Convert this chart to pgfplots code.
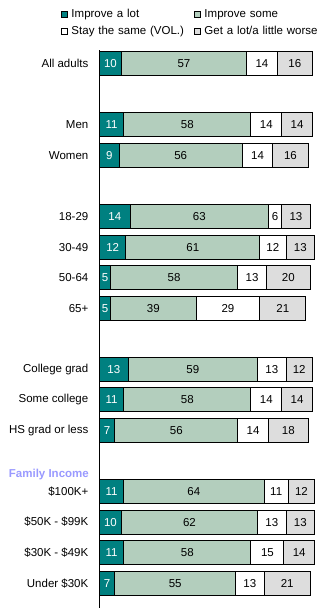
\documentclass[border=0pt]{standalone}
\usepackage{fontspec}
\setmainfont{Liberation Sans}
\usepackage{pgfplots}
\usepackage{pgfplotstable}
\pgfplotsset{compat=1.18}
\definecolor{cLot}{RGB}{0,128,128}
\definecolor{cSome}{RGB}{179,206,189}
\definecolor{cWorse}{RGB}{221,221,221}
\definecolor{cFam}{RGB}{153,153,255}
\pgfplotstableread{
pos lot some same worse
0 10 57 14 16
2 11 58 14 14
3 9 56 14 16
5 14 63 6 13
6 12 61 12 13
7 5 58 13 20
8 5 39 29 21
10 13 59 13 12
11 11 58 14 14
12 7 56 14 18
14 11 64 11 12
15 10 62 13 13
16 11 58 15 14
17 7 55 13 21
}\datatable
\newcommand{\tfont}{\fontsize{11.5bp}{13bp}\selectfont}
\pgfplotsset{
  common/.style={
    at={(99.5bp,0bp)}, anchor=south west,
    scale only axis, width=226.5bp, height=558bp,
    xmin=0, xmax=103.2, ymin=-0.448, ymax=17.81, y dir=reverse,
    clip=false,
  },
  legsq/.style={legend image code/.code={\draw[##1,line width=1bp] (0bp,-3bp) rectangle (6bp,3bp);}},
  lbl/.style={only marks, mark=text, text mark={}, every node near coord/.append style={text=#1}},
}
\begin{document}
\begin{tikzpicture}[font=\tfont]
\path[use as bounding box] (0,0) rectangle (326bp,608bp);
\begin{axis}[
  common,
  xbar stacked, bar width=24bp,
  axis x line=none, axis y line=left,
  y axis line style={-, line width=1bp, black},
  ytick={0,2,3,5,6,7,8,10,11,12,14,15,16,17},
  yticklabels={All adults,Men,Women,18-29,30-49,50-64,65+,College grad,Some college,HS grad or less,\$100K+,\$50K - \$99K,\$30K - \$49K,Under \$30K},
  major tick length=0pt,
  yticklabel style={inner sep=0pt, anchor=east, xshift=-11bp, font=\tfont},
  legend columns=2,
  legend cell align=left,
  legend style={at={(axis description cs:-0.1700,1.0717)}, anchor=north west,
    draw=none, fill=none, inner sep=0pt, outer sep=0pt,
    column sep=3.5bp, row sep=7bp, font=\tfont,
    nodes={inner sep=0pt, text height=8bp, text depth=2bp, text width=119bp, align=left}},
]
\addplot[fill=cLot, draw=black, line width=1bp, legsq] table[x=lot, y=pos] {\datatable};
\addlegendentry{Improve a lot}
\addplot[fill=cSome, draw=black, line width=1bp, legsq] table[x=some, y=pos] {\datatable};
\addlegendentry{Improve some}
\addplot[fill=white, draw=black, line width=1bp, legsq] table[x=same, y=pos] {\datatable};
\addlegendentry{Stay the same (VOL.)}
\addplot[fill=cWorse, draw=black, line width=1bp, legsq] table[x=worse, y=pos] {\datatable};
\addlegendentry{Get a lot/a little worse}
\node[anchor=east, inner sep=0pt, text=cFam, font=\tfont\bfseries] at (axis cs:0,13.43) [xshift=-10.5bp] {Family Income};
\end{axis}
\begin{axis}[
  common, hide axis,
  nodes near coords={\pgfplotspointmeta},
  point meta=explicit symbolic,
  every node near coord/.append style={anchor=center, inner sep=0pt, font=\tfont},
]
\addplot[lbl=white] table[x expr=\thisrow{lot}/2, y=pos, meta=lot] {\datatable};
\addplot[lbl=black] table[x expr=\thisrow{lot}+\thisrow{some}/2, y=pos, meta=some] {\datatable};
\addplot[lbl=black] table[x expr=\thisrow{lot}+\thisrow{some}+\thisrow{same}/2, y=pos, meta=same] {\datatable};
\addplot[lbl=black] table[x expr=\thisrow{lot}+\thisrow{some}+\thisrow{same}+\thisrow{worse}/2, y=pos, meta=worse] {\datatable};
\end{axis}
\end{tikzpicture}
\end{document}
